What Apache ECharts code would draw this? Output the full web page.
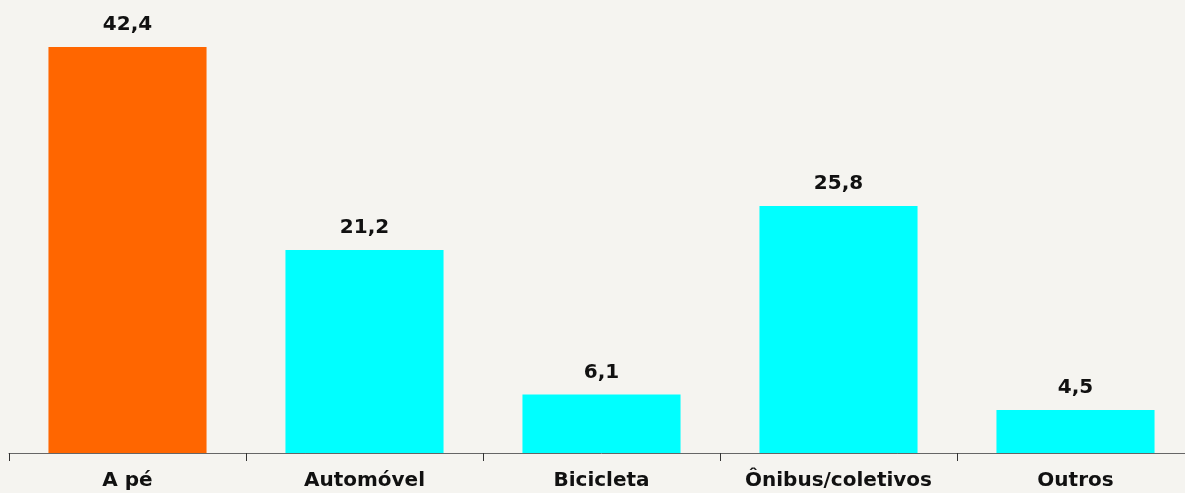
<!DOCTYPE html>
<html>
<head>
<meta charset="utf-8">
<script src="https://cdn.jsdelivr.net/npm/echarts@6/dist/echarts.min.js"></script>
<style>
html,body{margin:0;padding:0;background:#f5f4f0;overflow:hidden;}
#myChart{width:1196px;height:493px;}
</style>
</head>
<body>
<div id="myChart"></div>
<script>
// dados
var categorias = ['A pé', 'Automóvel', 'Bicicleta', 'Ônibus/coletivos', 'Outros'];
var valores = [42.4, 21.2, 6.1, 25.8, 4.5];
var cores = ['#ff6600', '#00ffff', '#00ffff', '#00ffff', '#00ffff'];

var myChart = echarts.init(document.getElementById('myChart'));

var dadosSerie = [];
for (var i = 0; i < valores.length; i++) {
    dadosSerie.push({ value: valores[i], itemStyle: { color: cores[i] } });
}

var option = {
    backgroundColor: '#f5f4f0',
    animation: false,
    grid: { left: 9, right: 2, top: 22, bottom: 40, containLabel: false },
    xAxis: {
        type: 'category',
        data: categorias,
        axisLine: { lineStyle: { color: '#666', width: 1 } },
        axisTick: { show: true, length: 8, interval: 0, lineStyle: { color: '#333' } },
        axisLabel: {
            interval: 0,
            margin: 18,
            color: '#111',
            fontFamily: 'DejaVu Sans',
            fontWeight: 'bold',
            fontSize: 20
        }
    },
    yAxis: {
        type: 'value',
        min: 0,
        max: 45,
        show: false,
        splitLine: { show: false }
    },
    series: [{
        type: 'bar',
        barWidth: '66.7%',
        data: dadosSerie,
        label: {
            show: true,
            position: 'top',
            distance: 12,
            color: '#111',
            fontFamily: 'DejaVu Sans',
            fontWeight: 'bold',
            fontSize: 20,
            formatter: function (p) { return String(p.value).replace('.', ','); }
        }
    }]
};

myChart.setOption(option);
</script>
</body>
</html>
